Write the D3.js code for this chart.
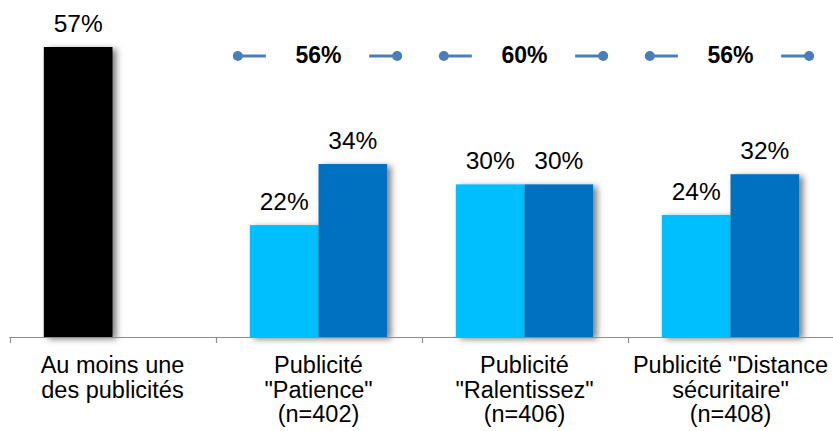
<!DOCTYPE html>
<html>
<head>
<meta charset="utf-8">
<script src="https://cdn.jsdelivr.net/npm/d3@7"></script>
<style>
  body { margin: 0; background: #fff; }
  svg { display: block; font-family: Arial, "Liberation Sans", sans-serif; }
</style>
</head>
<body>
<svg id="chart" width="833" height="431"></svg>
<script>
// Categories (multi-line labels)
const categories = [
    ['Au moins une', 'des publicités'],
    ['Publicité', '"Patience"', '(n=402)'],
    ['Publicité', '"Ralentissez"', '(n=406)'],
    ['Publicité "Distance', 'sécuritaire"', '(n=408)']
];
const series = ['s1', 's2'];
const seriesOne = [57, 22, 30, 24];
const seriesTwo = [null, 34, 30, 32];
const totals = [null, 56, 60, 56];

const colors = { first: '#050505', s1: '#00BFFF', s2: '#0070C0', bracket: '#4A7EBB' };

const svg = d3.select('#chart');
const defs = svg.append('defs');
const shadow = defs.append('filter').attr('id', 'shadow')
    .attr('x', '-20%').attr('y', '-20%').attr('width', '160%').attr('height', '140%');
shadow.append('feDropShadow')
    .attr('dx', 4).attr('dy', 2).attr('stdDeviation', 3)
    .attr('flood-color', '#000').attr('flood-opacity', 0.5);

const baseY = 337;
const x = d3.scaleBand().domain(d3.range(categories.length)).range([9.5, 833.5]).paddingInner(0).paddingOuter(0);
const xs = d3.scaleBand().domain(series).range([0, x.bandwidth()]).paddingInner(0).paddingOuter(0.5);
const y = d3.scaleLinear().domain([0, 57]).range([baseY, 47]);

const rows = [];
seriesOne.forEach((v, i) => {
    rows.push({ cat: i, s: 's1', v: v, color: i === 0 ? colors.first : colors.s1 });
    if (seriesTwo[i] != null) rows.push({ cat: i, s: 's2', v: seriesTwo[i], color: colors.s2 });
});

// bars
svg.append('g').selectAll('rect').data(rows).join('rect')
    .attr('x', d => x(d.cat) + xs(d.s))
    .attr('y', d => y(d.v))
    .attr('width', xs.bandwidth())
    .attr('height', d => baseY - y(d.v))
    .attr('fill', d => d.color)
    .attr('filter', 'url(#shadow)');

// value labels
svg.append('g').selectAll('text').data(rows).join('text')
    .attr('x', d => x(d.cat) + xs(d.s) + xs.bandwidth() / 2)
    .attr('y', d => y(d.v) - 15)
    .attr('text-anchor', 'middle')
    .style('font-size', '24.5px')
    .style('fill', '#000')
    .text(d => d.v + '%');

// axis
const axis = svg.append('g');
axis.append('line')
    .attr('x1', 9.5).attr('x2', 833).attr('y1', baseY + 0.5).attr('y2', baseY + 0.5)
    .attr('stroke', '#8c8c8c').attr('stroke-width', 1.2);
axis.selectAll('line.tick').data(d3.range(categories.length)).join('line')
    .attr('class', 'tick')
    .attr('x1', d => Math.round(x(d)) + 0.5).attr('x2', d => Math.round(x(d)) + 0.5)
    .attr('y1', baseY).attr('y2', baseY + 6)
    .attr('stroke', '#8c8c8c').attr('stroke-width', 1.2);

// category labels
const lab = svg.append('g').selectAll('text').data(categories).join('text')
    .attr('text-anchor', 'middle')
    .style('font-size', '23.5px')
    .style('fill', '#000');
lab.each(function(d, i) {
    const t = d3.select(this);
    d.forEach((line, j) => {
        t.append('tspan')
            .attr('x', x(i) + x.bandwidth() / 2)
            .attr('y', 373 + j * 24.5)
            .text(line);
    });
});

// total brackets on top
const bracketY = 56;
const tot = svg.append('g').selectAll('g').data(totals.map((v, i) => ({ v, i })).filter(d => d.v != null)).join('g');
tot.each(function(d) {
    const g = d3.select(this);
    const left = x(d.i) + xs('s1') - 12;
    const right = x(d.i) + xs('s2') + xs.bandwidth() + 10;
    const cx = x(d.i) + x.bandwidth() / 2;
    g.append('line').attr('x1', left).attr('x2', left + 28).attr('y1', bracketY).attr('y2', bracketY)
        .attr('stroke', colors.bracket).attr('stroke-width', 3);
    g.append('line').attr('x1', right - 28).attr('x2', right).attr('y1', bracketY).attr('y2', bracketY)
        .attr('stroke', colors.bracket).attr('stroke-width', 3);
    g.append('circle').attr('cx', left).attr('cy', bracketY).attr('r', 5).attr('fill', colors.bracket);
    g.append('circle').attr('cx', right).attr('cy', bracketY).attr('r', 5).attr('fill', colors.bracket);
    g.append('text')
        .attr('x', cx).attr('y', 63)
        .attr('text-anchor', 'middle')
        .style('font-size', '23px').style('font-weight', 'bold')
        .text(d.v + '%');
});
</script>
</body>
</html>
